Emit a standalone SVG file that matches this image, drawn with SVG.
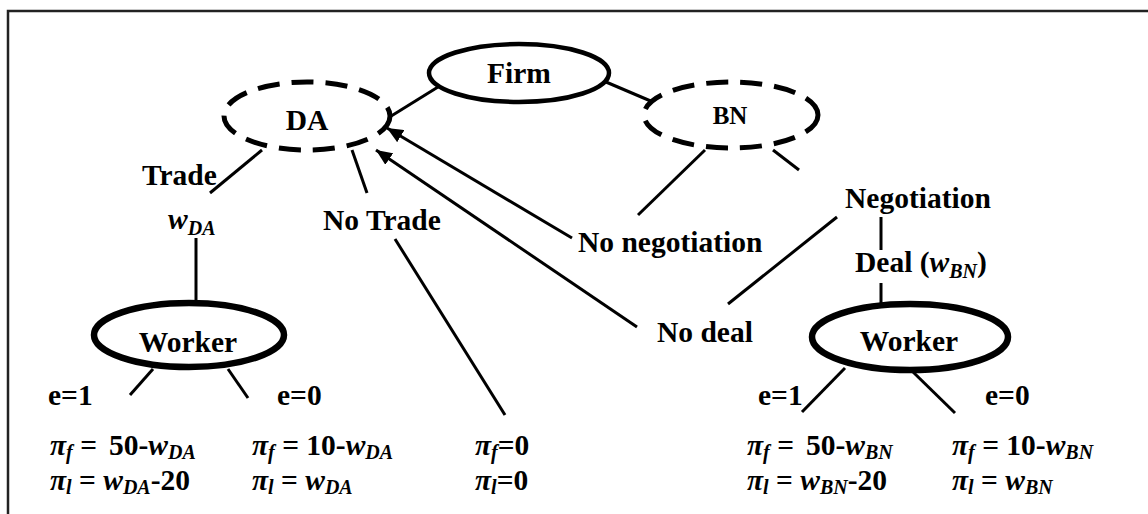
<svg xmlns="http://www.w3.org/2000/svg" width="1148" height="514" viewBox="0 0 1148 514">
<defs>
<style>
.t{font-family:"Liberation Serif","Times New Roman",serif;font-weight:bold;font-size:29.5px;fill:#000}
.i{font-style:italic}
.s{font-size:20px}
.bn{font-size:25px}
.ln{stroke:#000;stroke-width:3;fill:none}
.solid{fill:#fff;stroke:#000;stroke-width:4.5}
.thick{fill:#fff;stroke:#000;stroke-width:6.5}
.dash{fill:#fff;stroke:#000;stroke-width:5;stroke-dasharray:22 12}
</style>
<marker id="ah" markerUnits="userSpaceOnUse" markerWidth="18" markerHeight="14" refX="16" refY="7" orient="auto">
<path d="M0,0 L16,7 L0,14 Z" fill="#000"/>
</marker>
</defs>
<rect x="8" y="11" width="1160" height="520" fill="#fff" stroke="#222" stroke-width="2.5"/>

<g id="connectors">
<line class="ln" x1="438" y1="87" x2="388" y2="118"/>
<line class="ln" x1="606" y1="82" x2="653" y2="102"/>
<line class="ln" x1="262" y1="150" x2="210" y2="193"/>
<line class="ln" x1="352" y1="150" x2="367" y2="193"/>
<line class="ln" x1="196" y1="238" x2="196" y2="303"/>
<line class="ln" x1="395" y1="239" x2="505" y2="415"/>
<line class="ln" x1="705" y1="150" x2="638" y2="215"/>
<line class="ln" x1="773" y1="150" x2="799" y2="170"/>
<line class="ln" x1="881" y1="217" x2="881" y2="250"/>
<line class="ln" x1="881" y1="283" x2="881" y2="304"/>
<line class="ln" x1="837" y1="217" x2="728" y2="304"/>
<line class="ln" x1="572" y1="238" x2="387" y2="128" marker-end="url(#ah)"/>
<line class="ln" x1="637" y1="327" x2="376" y2="150" marker-end="url(#ah)"/>
<line class="ln" x1="153" y1="369" x2="130" y2="395"/>
<line class="ln" x1="228" y1="369" x2="248" y2="398"/>
<line class="ln" x1="845" y1="368" x2="802" y2="412"/>
<line class="ln" x1="912" y1="371" x2="955" y2="413"/>
</g>

<g id="firm">
<ellipse class="solid" cx="519" cy="73" rx="90" ry="29"/>
<text class="t" x="519" y="83" text-anchor="middle">Firm</text>
</g>
<g id="da">
<ellipse class="dash" cx="307" cy="116" rx="83" ry="34"/>
<text class="t" x="307" y="130" text-anchor="middle">DA</text>
</g>
<g id="bn">
<ellipse class="dash" cx="731" cy="115" rx="87" ry="33"/>
<text class="t bn" x="730" y="124" text-anchor="middle">BN</text>
</g>
<g id="worker-da">
<ellipse class="thick" cx="189" cy="335" rx="95" ry="32"/>
<text class="t" x="188" y="352" text-anchor="middle">Worker</text>
</g>
<g id="worker-bn">
<ellipse class="thick" cx="910" cy="337" rx="98" ry="33"/>
<text class="t" x="909" y="351" text-anchor="middle">Worker</text>
</g>

<g id="labels">
<text class="t" x="142" y="185">Trade</text>
<text class="t" x="168" y="229"><tspan class="i">w</tspan><tspan class="i s" dy="6">DA</tspan></text>
<text class="t" x="323" y="230">No Trade</text>
<text class="t" x="578" y="252">No negotiation</text>
<text class="t" x="845" y="208">Negotiation</text>
<text class="t" x="855" y="272">Deal (<tspan class="i">w</tspan><tspan class="i s" dy="6">BN</tspan><tspan dy="-6">)</tspan></text>
<text class="t" x="657" y="342">No deal</text>
<text class="t" x="48" y="405">e=1</text>
<text class="t" x="277" y="405">e=0</text>
<text class="t" x="758" y="405">e=1</text>
<text class="t" x="985" y="405">e=0</text>
</g>

<g id="payoffs">
<text class="t" x="50" y="455"><tspan class="i">π</tspan><tspan class="i s" dy="4">f</tspan><tspan dy="-4"> =</tspan><tspan dx="12">50-</tspan><tspan class="i">w</tspan><tspan class="i s" dy="4">DA</tspan></text>
<text class="t" x="50" y="490"><tspan class="i">π</tspan><tspan class="i s" dy="4">l</tspan><tspan dy="-4"> = </tspan><tspan class="i">w</tspan><tspan class="i s" dy="4">DA</tspan><tspan dy="-4">-20</tspan></text>
<text class="t" x="252" y="455"><tspan class="i">π</tspan><tspan class="i s" dy="4">f</tspan><tspan dy="-4"> = 10-</tspan><tspan class="i">w</tspan><tspan class="i s" dy="4">DA</tspan></text>
<text class="t" x="252" y="490"><tspan class="i">π</tspan><tspan class="i s" dy="4">l</tspan><tspan dy="-4"> = </tspan><tspan class="i">w</tspan><tspan class="i s" dy="4">DA</tspan></text>
<text class="t" x="475" y="455"><tspan class="i">π</tspan><tspan class="i s" dy="4">f</tspan><tspan dy="-4">=0</tspan></text>
<text class="t" x="475" y="490"><tspan class="i">π</tspan><tspan class="i s" dy="4">l</tspan><tspan dy="-4">=0</tspan></text>
<text class="t" x="747" y="455"><tspan class="i">π</tspan><tspan class="i s" dy="4">f</tspan><tspan dy="-4"> =</tspan><tspan dx="12">50-</tspan><tspan class="i">w</tspan><tspan class="i s" dy="4">BN</tspan></text>
<text class="t" x="747" y="490"><tspan class="i">π</tspan><tspan class="i s" dy="4">l</tspan><tspan dy="-4"> = </tspan><tspan class="i">w</tspan><tspan class="i s" dy="4">BN</tspan><tspan dy="-4">-20</tspan></text>
<text class="t" x="952" y="455"><tspan class="i">π</tspan><tspan class="i s" dy="4">f</tspan><tspan dy="-4"> = 10-</tspan><tspan class="i">w</tspan><tspan class="i s" dy="4">BN</tspan></text>
<text class="t" x="952" y="490"><tspan class="i">π</tspan><tspan class="i s" dy="4">l</tspan><tspan dy="-4"> = </tspan><tspan class="i">w</tspan><tspan class="i s" dy="4">BN</tspan></text>
</g>
</svg>
